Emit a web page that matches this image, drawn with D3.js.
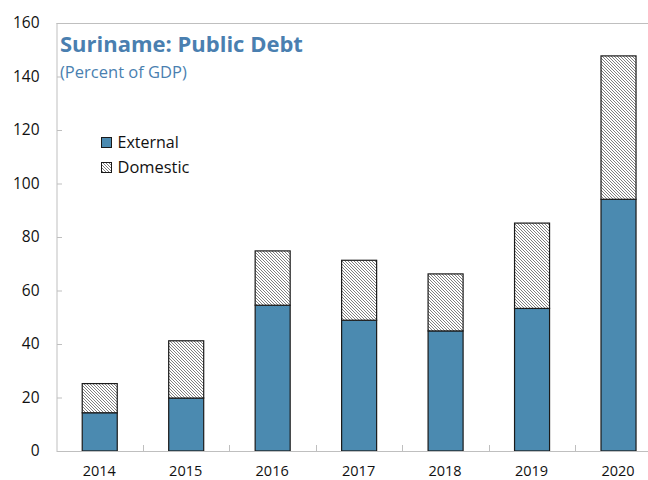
<!DOCTYPE html>
<html>
<head>
<meta charset="utf-8">
<script src="https://cdn.jsdelivr.net/npm/d3@7"></script>
<style>
  html, body { margin: 0; padding: 0; background: #fff; }
  svg { display: block; }
  text { font-family: "Open Sans", "Noto Sans", sans-serif; }
</style>
</head>
<body>
<svg id="chart" width="648" height="480"></svg>
<script>
const years = ["2014", "2015", "2016", "2017", "2018", "2019", "2020"];
const external = [14.3, 19.8, 54.5, 48.9, 44.9, 53.3, 94.1];
const domestic = [10.9, 21.4, 20.3, 22.4, 21.3, 31.9, 53.6];
const yTicks = [0, 20, 40, 60, 80, 100, 120, 140, 160];
const seriesNames = ["External", "Domestic"];

(function () {
const svg = d3.select("#chart");
const W = 648, H = 480;
const mLeft = 56.5, mTop = 23, mBottom = 451;
const rightEdge = 661.75;

const barColor = "#4b8ab0";
const axisColor = "#bfbfbf";
const titleColor = "#4a7fb0";

// hatch pattern
const defs = svg.append("defs");
const pat = defs.append("pattern")
  .attr("id", "hatch")
  .attr("patternUnits", "userSpaceOnUse")
  .attr("width", 3).attr("height", 3);
pat.append("rect").attr("width", 3).attr("height", 3).attr("fill", "#fff");
pat.append("path")
  .attr("d", "M-1,-1 L4,4 M-1,2 L1,4 M2,-1 L4,1")
  .attr("stroke", "#555").attr("stroke-width", 0.75);

const x = d3.scaleBand().domain(years).range([mLeft, rightEdge]).padding(0);
const y = d3.scaleLinear().domain([0, 160]).range([mBottom, mTop]);
const barW = x.step() * 0.405;

// frame: top border
svg.append("line")
  .attr("x1", mLeft).attr("x2", W).attr("y1", mTop + 0.5).attr("y2", mTop + 0.5)
  .attr("stroke", axisColor).attr("stroke-width", 1);

// y axis
const yAxis = d3.axisLeft(y).tickValues(yTicks).tickSize(-5).tickPadding(17)
  .tickFormat(d3.format("d"));
const gy = svg.append("g").attr("transform", `translate(${mLeft},0)`).call(yAxis);
gy.select(".domain").attr("stroke", axisColor).attr("d", `M0.5,${mTop}V${mBottom}`);
gy.selectAll(".tick line").attr("stroke", axisColor).attr("transform", "translate(0.5,0)");
gy.selectAll(".tick text").attr("font-size", 15.5).attr("fill", "#111")
  .attr("font-family", "'Open Sans', 'Noto Sans', sans-serif");

// stacked data
const stackData = years.map((yr, i) => ({ year: yr, External: external[i], Domestic: domestic[i] }));
const stack = d3.stack().keys(seriesNames)(stackData);

const fills = { External: barColor, Domestic: "url(#hatch)" };
stack.forEach(layer => {
  svg.append("g").selectAll("rect").data(layer).join("rect")
    .attr("x", d => x(d.data.year) + (x.bandwidth() - barW) / 2)
    .attr("width", barW)
    .attr("y", d => y(d[1]))
    .attr("height", d => y(d[0]) - y(d[1]))
    .attr("fill", fills[layer.key])
    .attr("stroke", "#1a1a1a")
    .attr("stroke-width", 1.2);
});

// x axis
const gx = svg.append("g").attr("transform", `translate(0,${mBottom})`);
gx.append("line").attr("x1", mLeft).attr("x2", W).attr("y1", 0.5).attr("y2", 0.5)
  .attr("stroke", axisColor).attr("stroke-width", 1.2);
gx.selectAll("line.tk").data(years.slice(1)).join("line").attr("class", "tk")
  .attr("x1", d => Math.round(x(d)) + 0.5).attr("x2", d => Math.round(x(d)) + 0.5)
  .attr("y1", 0).attr("y2", -6).attr("stroke", axisColor);
gx.selectAll("text").data(years).join("text")
  .attr("x", d => x(d) + x.bandwidth() / 2 - 0.5)
  .attr("y", 25)
  .attr("text-anchor", "middle")
  .attr("font-size", 14.5)
  .attr("fill", "#111")
  .text(d => d);

// title
function fitText(sel, width) {
  const w = sel.node().getComputedTextLength();
  const fs = parseFloat(sel.attr("font-size"));
  sel.attr("font-size", fs * width / w);
}
const t1 = svg.append("text").attr("x", 60).attr("y", 52)
  .attr("font-size", 22).attr("font-weight", "bold").attr("fill", titleColor)
  .text("Suriname: Public Debt");
fitText(t1, 243);
const t2 = svg.append("text").attr("x", 60).attr("y", 78)
  .attr("font-size", 15).attr("fill", titleColor)
  .text("(Percent of GDP)");
fitText(t2, 127);

// legend
const legend = svg.append("g");
let legendFs = 16;
seriesNames.forEach((name, i) => {
  const ly = 137 + i * 25;
  legend.append("rect").attr("x", 101.5).attr("y", ly + 0.5).attr("width", 10).attr("height", 10)
    .attr("fill", fills[name]).attr("stroke", "#1a1a1a").attr("stroke-width", 1);
  const lt = legend.append("text").attr("x", 117.5).attr("y", ly + 11)
    .attr("font-size", legendFs).attr("fill", "#111").text(name);
  if (i === 1) fitText(lt, 72);
});
})();
</script>
</body>
</html>
